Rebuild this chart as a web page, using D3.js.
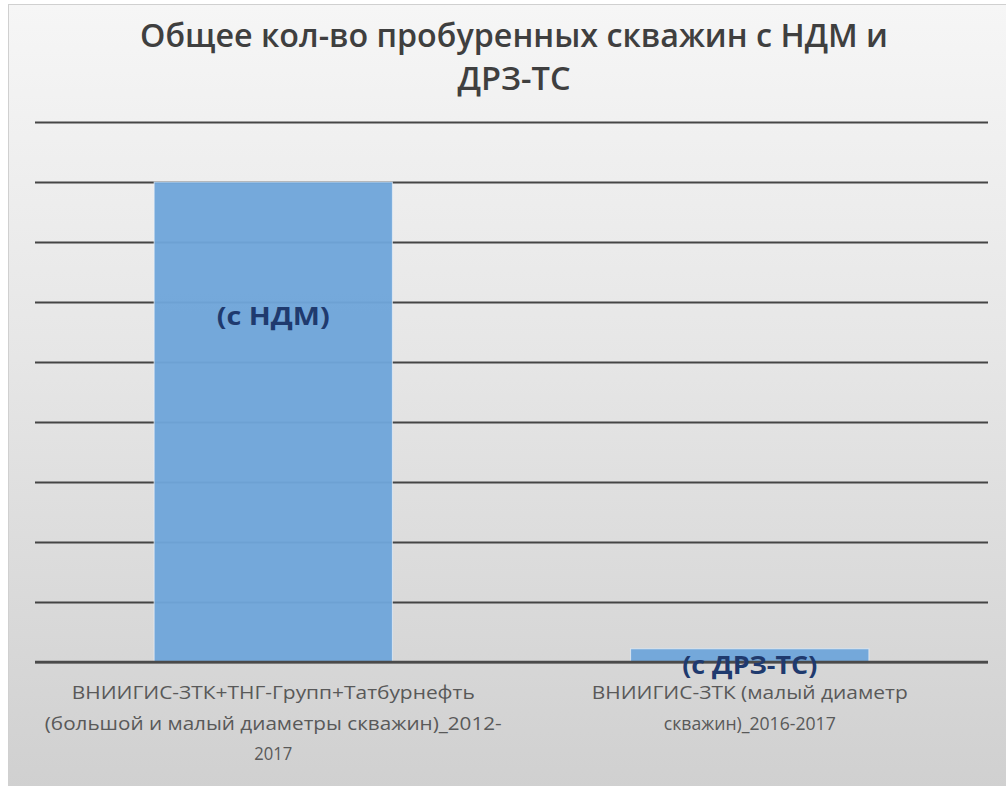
<!DOCTYPE html>
<html>
<head>
<meta charset="utf-8">
<script src="https://cdn.jsdelivr.net/npm/d3@7"></script>
<style>
  html, body { margin: 0; padding: 0; background: #ffffff; }
  svg { display: block; }
</style>
</head>
<body>
<svg id="chart" width="1006" height="786"></svg>
<script>
// Chart data
const categories = [
  ["ВНИИГИС-ЗТК+ТНГ-Групп+Татбурнефть", "(большой и малый диаметры скважин)_2012-", "2017"],
  ["ВНИИГИС-ЗТК (малый диаметр", "скважин)_2016-2017"]
];
const values = [8, 0.22];
const barLabels = ["(с НДМ)", "(с ДРЗ-ТС)"];
const yTicks = [0, 1, 2, 3, 4, 5, 6, 7, 8, 9];
const titleLines = ["Общее кол-во пробуренных скважин с НДМ и", "ДРЗ-ТС"];

const W = 1006, H = 786;
const svg = d3.select("#chart");

// Background panel with a soft vertical gradient
const defs = svg.append("defs");
const grad = defs.append("linearGradient")
  .attr("id", "bg").attr("x1", 0).attr("y1", 0).attr("x2", 0).attr("y2", 1);
grad.append("stop").attr("offset", "0%").attr("stop-color", "#f6f6f6");
grad.append("stop").attr("offset", "45%").attr("stop-color", "#e6e6e6");
grad.append("stop").attr("offset", "100%").attr("stop-color", "#d0d0d0");

svg.append("rect")
  .attr("x", 8.5).attr("y", 4.5).attr("width", W).attr("height", H)
  .attr("fill", "url(#bg)")
  .attr("stroke", "#d0d0d0").attr("stroke-width", 1);

// Scales
const plot = { left: 35, right: 988, top: 122, bottom: 662 };
const x = d3.scaleBand()
  .domain(d3.range(categories.length))
  .range([plot.left, plot.right])
  .paddingInner(0.5).paddingOuter(0.25);
const y = d3.scaleLinear()
  .domain([0, d3.max(yTicks)])
  .range([plot.bottom, plot.top]);

// Horizontal gridlines
const grid = svg.append("g")
  .attr("transform", `translate(${plot.left},0)`)
  .call(d3.axisLeft(y).tickValues(yTicks).tickSize(-(plot.right - plot.left)).tickFormat(""));
grid.select(".domain").remove();
grid.selectAll(".tick line")
  .attr("stroke", "#3c3c3c").attr("stroke-width", 2.2).attr("stroke-opacity", 0.95);

// Bars (slightly translucent so gridlines read through)
svg.append("g").selectAll("rect")
  .data(values)
  .join("rect")
  .attr("x", (d, i) => x(i))
  .attr("width", x.bandwidth())
  .attr("y", d => y(d))
  .attr("height", d => y(0) - y(d))
  .attr("fill", "#6fa6da")
  .attr("fill-opacity", 0.96)
  .attr("stroke", "#e9f1fa").attr("stroke-width", 1).attr("stroke-opacity", 0.7);

// Baseline drawn over the bars
svg.append("line")
  .attr("x1", plot.left).attr("x2", plot.right)
  .attr("y1", y(0)).attr("y2", y(0))
  .attr("stroke", "#4a4a4a").attr("stroke-width", 2.4);

// Title
const title = svg.append("g").attr("font-family", "'Open Sans', 'DejaVu Sans', sans-serif")
  .attr("font-weight", 600).attr("fill", "#3f3f3f").attr("text-anchor", "middle");
title.append("text").attr("x", 514).attr("y", 47).attr("font-size", 32)
  .attr("textLength", 748).attr("lengthAdjust", "spacingAndGlyphs").text(titleLines[0]);
title.append("text").attr("x", 514).attr("y", 90).attr("font-size", 32)
  .attr("textLength", 113).attr("lengthAdjust", "spacingAndGlyphs").text(titleLines[1]);

// Category labels
const catG = svg.append("g")
  .attr("font-family", "'Open Sans', 'DejaVu Sans', sans-serif")
  .attr("font-size", 18).attr("fill", "#595959").attr("text-anchor", "middle");
const catWidths = [[403, 457, 38], [316, 172]];
categories.forEach((lines, i) => {
  lines.forEach((ln, j) => {
    catG.append("text")
      .attr("x", x(i) + x.bandwidth() / 2)
      .attr("y", 699 + j * 30.5)
      .attr("textLength", catWidths[i][j]).attr("lengthAdjust", "spacingAndGlyphs")
      .text(ln);
  });
});

// Bar data labels
const lblG = svg.append("g")
  .attr("font-family", "'Open Sans', 'DejaVu Sans', sans-serif")
  .attr("font-weight", 700).attr("font-size", 25).attr("fill", "#1f3a6e")
  .attr("text-anchor", "middle");
const lblOffsets = [143, 25];
const lblWidths = [113, 135];
values.forEach((v, i) => {
  lblG.append("text")
    .attr("x", x(i) + x.bandwidth() / 2)
    .attr("y", y(v) + lblOffsets[i])
    .attr("textLength", lblWidths[i]).attr("lengthAdjust", "spacingAndGlyphs")
    .text(barLabels[i]);
});
</script>
</body>
</html>
